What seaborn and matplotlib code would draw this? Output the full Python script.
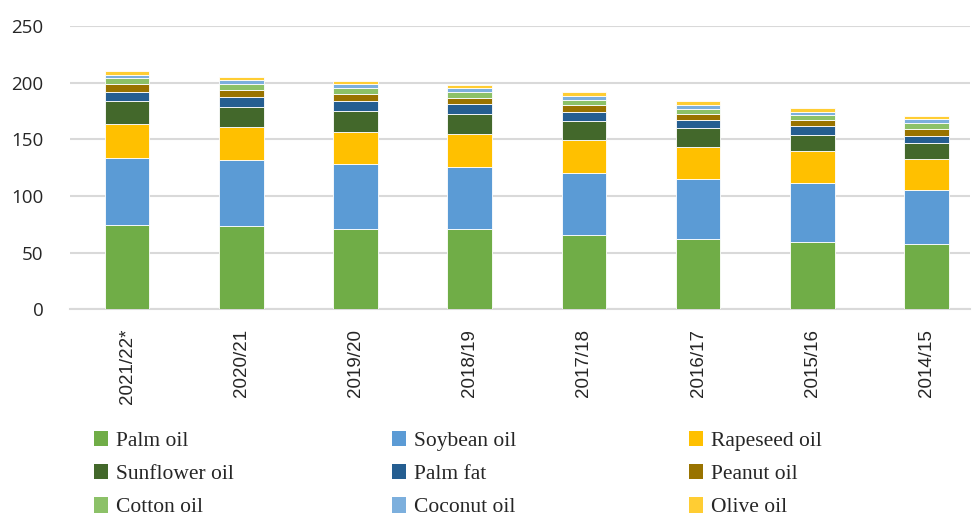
import pandas as pd
import numpy as np
import matplotlib
matplotlib.use("Agg")
import matplotlib.pyplot as plt
import seaborn as sns
from matplotlib.patches import Patch

# seasons, newest first (as in the source chart)
years = ["2021/22*", "2020/21", "2019/20", "2018/19", "2017/18", "2016/17", "2015/16", "2014/15"]

# consumption per oil type (million tonnes)
palm_oil = [74.0, 73.2, 71.1, 71.1, 65.2, 61.7, 59.1, 57.8]
soybean_oil = [59.6, 58.5, 57.2, 54.6, 55.0, 52.9, 52.1, 47.6]
rapeseed_oil = [29.5, 28.8, 28.2, 28.6, 29.0, 28.7, 28.4, 27.1]
sunflower_oil = [20.3, 17.9, 18.8, 18.2, 16.9, 16.5, 14.4, 13.8]
palm_fat = [8.2, 8.8, 8.5, 8.5, 7.9, 7.1, 7.4, 6.7]
peanut_oil = [7.3, 6.2, 6.2, 5.3, 6.2, 5.6, 5.6, 6.2]
cotton_oil = [4.7, 5.3, 5.0, 5.3, 4.7, 4.1, 4.1, 4.8]
coconut_oil = [3.2, 3.2, 3.5, 3.5, 3.2, 3.5, 3.2, 3.5]
olive_oil = [3.2, 2.9, 2.6, 2.6, 3.3, 3.3, 3.3, 2.9]

series = {
    "Palm oil": palm_oil,
    "Soybean oil": soybean_oil,
    "Rapeseed oil": rapeseed_oil,
    "Sunflower oil": sunflower_oil,
    "Palm fat": palm_fat,
    "Peanut oil": peanut_oil,
    "Cotton oil": cotton_oil,
    "Coconut oil": coconut_oil,
    "Olive oil": olive_oil,
}
colors = ["#70AD47", "#5B9BD5", "#FFC000", "#43682B", "#255E91",
          "#997300", "#8CC168", "#7CAFDD", "#FFCD33"]

sns.set_style("white")

fig = plt.figure(figsize=(9.73, 5.18), dpi=100)
ax = fig.add_axes([70 / 973, 1 - 309.3 / 518, 900 / 973, 283.5 / 518])

df = pd.DataFrame(series)
df["year"] = years

bottom = np.zeros(len(years))
for (name, vals), col in zip(series.items(), colors):
    sns.barplot(data=df, x="year", y=name, order=years, bottom=bottom, color=col,
                saturation=1, width=0.39, errorbar=None, edgecolor="white",
                linewidth=0.6, ax=ax, zorder=3)
    bottom = bottom + np.array(vals)

ax.set_xlim(-0.5, 7.38)
ax.set_ylim(0, 250)
ax.set_yticks(range(0, 251, 50))
ax.yaxis.grid(True, color="#D9D9D9", linewidth=1.5, zorder=0)
ax.set_axisbelow(True)
for s in ["top", "right", "left"]:
    ax.spines[s].set_visible(False)
ax.spines["bottom"].set_color("#D9D9D9")
ax.spines["bottom"].set_linewidth(1.5)
ax.set_xlabel("")
ax.set_ylabel("")
ax.tick_params(axis="both", length=0)
ax.tick_params(axis="y", pad=19)
ax.tick_params(axis="x", pad=14)
for lab in ax.get_yticklabels():
    lab.set_fontfamily("Open Sans")
    lab.set_fontsize(13.5)
    lab.set_color("#262626")
ax.set_xticks(range(len(years)))
ax.set_xticklabels(years, rotation=90, fontfamily="Liberation Sans", fontsize=13.5, color="#262626")

# legend: three columns, filled row-wise like the original
names = list(series.keys())
col_x = [94, 392, 689]
for c in range(3):
    handles = [Patch(facecolor=colors[r * 3 + c], edgecolor="none") for r in range(3)]
    labels = [names[r * 3 + c] for r in range(3)]
    fig.legend(handles, labels, loc="upper left",
               bbox_to_anchor=(col_x[c] / 973, 1 - 431 / 518),
               frameon=False, borderpad=0, borderaxespad=0,
               handlelength=0.65, handleheight=0.72, handletextpad=0.35,
               labelspacing=0.6,
               prop={"family": "Liberation Serif", "size": 15.5})

fig.savefig("out.png", dpi=100)
